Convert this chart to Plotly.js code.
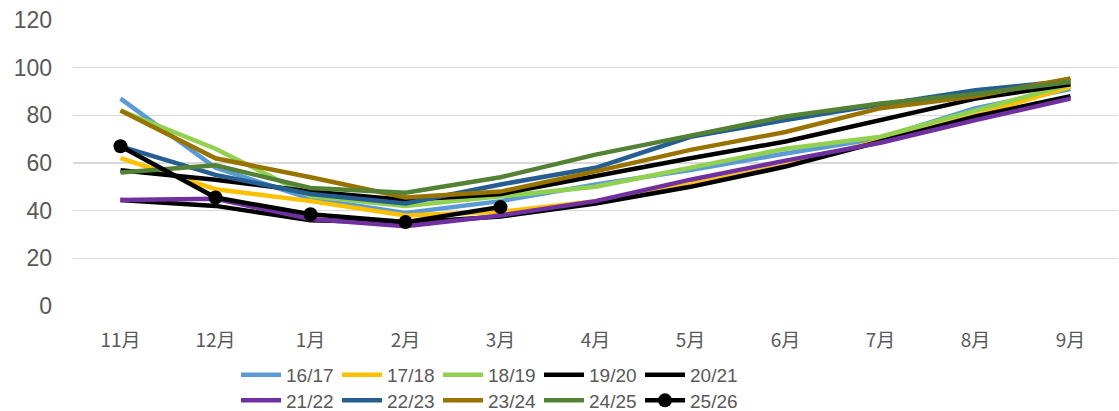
<!DOCTYPE html>
<html>
<head>
<meta charset="utf-8">
<script src="https://cdn.plot.ly/plotly-3.0.1.min.js"></script>
<style>html,body{margin:0;padding:0;background:#fff;}#chart{width:1119px;height:411px;}</style>
</head>
<body>
<div id="chart"></div>
<script>
const months = ["11月","12月","1月","2月","3月","4月","5月","6月","7月","8月","9月"];
const seriesNames = ["16/17","17/18","18/19","19/20","20/21","21/22","22/23","23/24","24/25","25/26"];
const s1617 = [87, 58, 45, 39, 44, 51, 57, 64, 70.5, 83, 91];
const s1718 = [62, 49, 44, 38, 39.5, 44, 51, 59, 69.5, 80, 92];
const s1819 = [82, 66, 46, 42, 46, 50, 58, 66, 71, 82, 93];
const s1920 = [57, 53, 48, 44.5, 47, 54.5, 62, 69, 78, 87, 93];
const s2021 = [44.5, 42, 36, 35, 37.5, 43, 50, 58.5, 69, 79.5, 88];
const s2122 = [44.5, 45, 36.5, 33.5, 38, 44, 53, 61, 68.5, 78, 87];
const s2223 = [67, 55, 47, 43, 51, 58, 71, 78, 84.5, 90.5, 94.5];
const s2324 = [82, 62, 54, 45.5, 48, 56.5, 65.5, 73, 83, 88, 95.5];
const s2425 = [56, 59, 49.5, 47.5, 54, 63.5, 71.5, 79.5, 85, 89, 94];
const s2526 = [67, 45.5, 38.5, 35.2, 41.5];

const colors = ["#5B9BD5","#FFC000","#92D050","#000000","#000000","#7030A0","#255E91","#997300","#548235","#000000"];
const allData = [s1617,s1718,s1819,s1920,s2021,s2122,s2223,s2324,s2425,s2526];

const traces = allData.map((vals, i) => {
  const t = {
    type: "scatter",
    x: months.slice(0, vals.length),
    y: vals,
    name: seriesNames[i],
    mode: i === 9 ? "lines+markers" : "lines",
    line: {color: colors[i], width: 4.5},
    legend: i < 5 ? "legend" : "legend2",
    hoverinfo: "skip"
  };
  if (i === 9) t.marker = {color: "#000000", size: 14};
  return t;
});

const fontFam = "'Liberation Sans', Arial, 'Noto Sans CJK SC', sans-serif";
const legendCommon = {
  orientation: "h",
  xref: "container", yref: "container",
  xanchor: "left", yanchor: "middle",
  x: 236/1119,
  font: {family: fontFam, size: 19, color: "#595959"},
  entrywidth: 46, entrywidthmode: "pixels",
  itemwidth: 40,
  bgcolor: "rgba(0,0,0,0)",
  tracegroupgap: 0
};

const layout = {
  width: 1119, height: 411,
  margin: {l: 73, r: 1, t: 20, b: 105},
  paper_bgcolor: "#ffffff",
  plot_bgcolor: "#ffffff",
  font: {family: fontFam, color: "#595959"},
  showlegend: true,
  xaxis: {
    type: "category",
    categoryorder: "array",
    categoryarray: months,
    range: [-0.5, 10.5],
    showgrid: false, zeroline: false, showline: false,
    ticks: "",
    tickfont: {family: "'Noto Sans CJK SC', 'Liberation Sans', sans-serif", size: 19, color: "#595959"},
    ticklabelstandoff: 21
  },
  yaxis: {
    range: [0, 120],
    dtick: 20, tick0: 0,
    showgrid: true, gridcolor: "#D9D9D9", gridwidth: 1.3,
    zeroline: false, showline: false,
    ticks: "",
    tickfont: {family: fontFam, size: 23, color: "#595959"},
    ticklabelstandoff: 20
  },
  legend: Object.assign({}, legendCommon, {y: 1 - 375/411}),
  legend2: Object.assign({}, legendCommon, {y: 1 - 400.5/411})
};

Plotly.newPlot("chart", traces, layout, {displayModeBar: false, staticPlot: true});
</script>
</body>
</html>
